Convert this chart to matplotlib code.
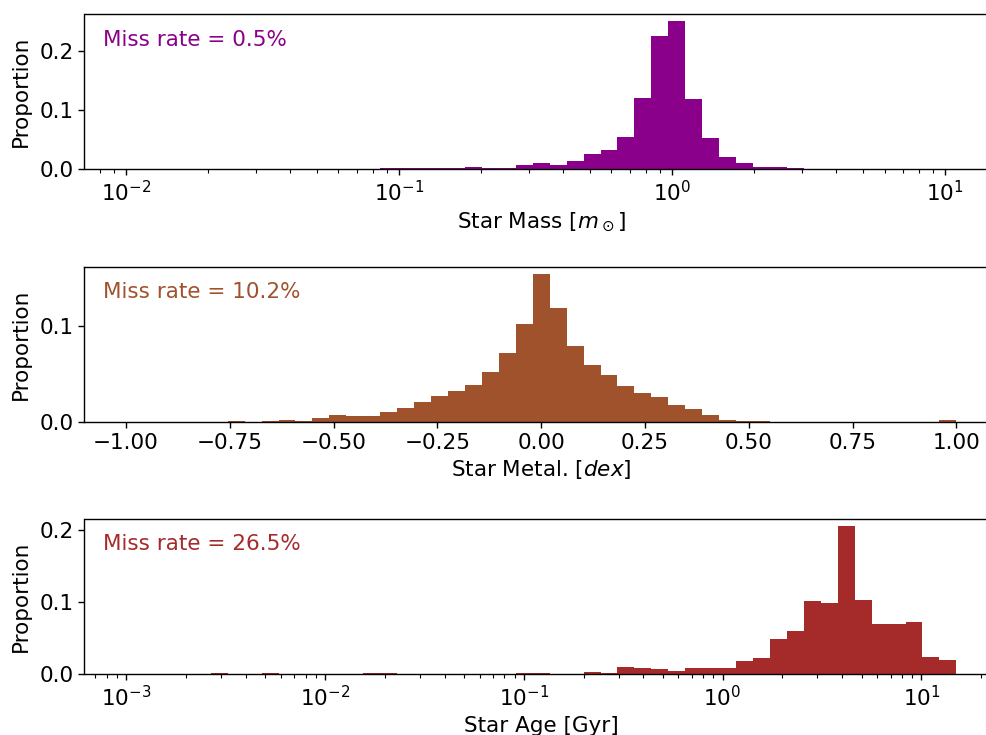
import numpy as np
import matplotlib
matplotlib.use("Agg")
import matplotlib.pyplot as plt

# Star mass histogram (49 log-spaced bins from 0.01 to 11 Msun)
mass_edges = np.logspace(-2, np.log10(11), 50)
mass_prop = [0, 0, 0, 0, 0, 0, 0, 0, 0, 0, 0, 0, 0, 0, 0,
             0.0017, 0.0017, 0.0017, 0.0017, 0.0017, 0.0034, 0.0017, 0.0017,
             0.0068, 0.0102, 0.0068, 0.0136, 0.0256, 0.0324, 0.0546, 0.121,
             0.2251, 0.2507, 0.1194, 0.0529, 0.0205, 0.0102, 0.0034, 0.0034,
             0.0017, 0, 0, 0, 0, 0, 0, 0, 0, 0]
mass_miss = 0.5

# Star metallicity histogram (49 linear bins from -1 to 1 dex)
metal_edges = np.linspace(-1, 1, 50)
metal_prop = [0, 0, 0, 0, 0, 0, 0.0009, 0, 0.0009, 0.0017, 0.0009, 0.0038,
              0.007, 0.006, 0.006, 0.0101, 0.0146, 0.0206, 0.0268, 0.032,
              0.0383, 0.0519, 0.0718, 0.1021, 0.1543, 0.1188, 0.0791, 0.0592,
              0.0488, 0.0373, 0.030, 0.0258, 0.0174, 0.0133, 0.007, 0.0017,
              0.0008, 0.0008, 0, 0, 0, 0, 0, 0, 0, 0, 0, 0, 0.0017]
metal_miss = 10.2

# Star age histogram (49 log-spaced bins from 0.001 to 15 Gyr)
age_edges = np.logspace(-3, np.log10(15), 50)
age_prop = [0, 0, 0, 0, 0, 0.0014, 0, 0, 0.0014, 0, 0, 0, 0, 0, 0.0014,
            0.0014, 0, 0, 0, 0, 0, 0, 0, 0.0014, 0.0014, 0, 0, 0.0028,
            0.0014, 0.0098, 0.0084, 0.007, 0.0042, 0.0084, 0.0084, 0.0084,
            0.0181, 0.0223, 0.0488, 0.060, 0.1019, 0.0991, 0.2052, 0.1033,
            0.0698, 0.0698, 0.0726, 0.0237, 0.0195]
age_miss = 26.5

panels = [
    (mass_edges, mass_prop, mass_miss, "darkmagenta", r"Star Mass [$m_\odot$]", True),
    (metal_edges, metal_prop, metal_miss, "sienna", r"Star Metal. [$dex$]", False),
    (age_edges, age_prop, age_miss, "brown", "Star Age [Gyr]", True),
]

plt.rcParams.update({
    "font.size": 15.5,
    "axes.linewidth": 1.0,
    "xtick.major.size": 4.5,
    "ytick.major.size": 4.5,
    "xtick.minor.size": 2.6,
    "xtick.major.width": 1.0,
    "ytick.major.width": 1.0,
    "xtick.minor.width": 0.8,
})

W, H = 987, 735
fig = plt.figure(figsize=(W / 100, H / 100), dpi=100)

ax_left = 84.5 / W
ax_width = 913.4 / W
ax_height = 155 / H
bottoms = [1 - 169 / H, 1 - 421.5 / H, 1 - 674 / H]

for (edges, prop, miss, color, xlabel, logx), b in zip(panels, bottoms):
    ax = fig.add_axes([ax_left, b, ax_width, ax_height])
    ax.hist(edges[:-1], bins=edges, weights=prop, color=color)
    if logx:
        ax.set_xscale("log")
    ax.set_xlabel(xlabel)
    ax.set_ylabel("Proportion", labelpad=6)
    ax.text(0.02, 0.9, f"Miss rate = {miss}%", transform=ax.transAxes,
            color=color, fontsize=15.5, va="top", ha="left")

fig.savefig("out.png", dpi=100)
